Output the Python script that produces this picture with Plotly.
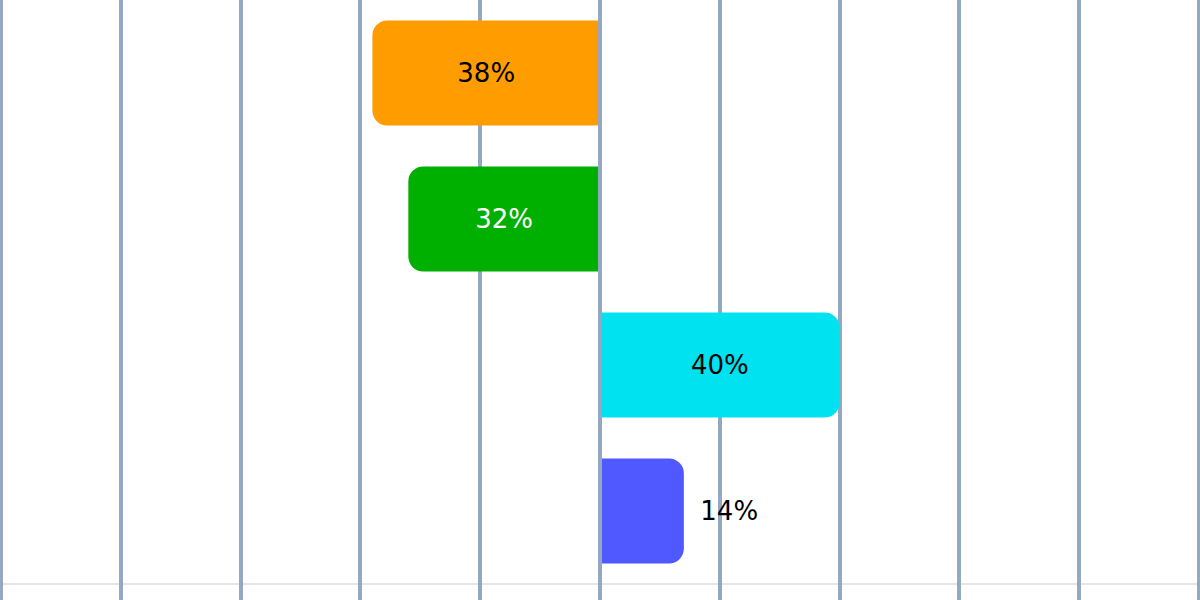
import plotly.graph_objects as go

categories = ["A", "B", "C", "D"]
values = [-38, -32, 40, 14]
labels = ["38%", "32%", "40%", "14%"]
colors = ["#ff9c00", "#00b000", "#00e2f0", "#5058ff"]
text_colors = ["#000000", "#ffffff", "#000000", "#000000"]
text_positions = ["inside", "inside", "inside", "outside"]
tick_values = [-100, -80, -60, -40, -20, 0, 20, 40, 60, 80, 100]

fig = go.Figure(go.Bar(
    y=categories,
    x=values,
    orientation="h",
    marker=dict(color=colors, line=dict(width=0)),
    text=["\u00a0\u2009" + t if p == "outside" else t for t, p in zip(labels, text_positions)],
    textposition=text_positions,
    insidetextanchor="middle",
    textfont=dict(family="DejaVu Sans", size=26, color=text_colors),
    cliponaxis=False,
    hoverinfo="skip",
))

slot = 146
fig.update_layout(
    width=1200, height=600,
    margin=dict(l=0, r=0, t=0, b=0),
    paper_bgcolor="white", plot_bgcolor="white",
    showlegend=False,
    bargap=0.28,
    barcornerradius=15,
    xaxis=dict(range=[-100.17, 100.17], showgrid=True, gridcolor="#95a8c3", gridwidth=4,
               zeroline=True, zerolinecolor="#95a8c3", zerolinewidth=4,
               zerolinelayer="above traces",
               tickmode="array", tickvals=tick_values, showticklabels=False,
               ticks="", showline=False, fixedrange=True),
    yaxis=dict(type="category", categoryorder="array", categoryarray=categories,
               range=[3.5 + 16 / slot, -0.5], showgrid=False, zeroline=False,
               showticklabels=False, ticks="", showline=False, fixedrange=True),
    shapes=[dict(type="line", xref="paper", x0=0, x1=1, yref="y", y0=3.5, y1=3.5,
                 line=dict(color="#e5e5e5", width=2), layer="below")],
)

fig.write_html("out.html", config={"displayModeBar": False},
               post_script="document.body.style.margin='0';")
